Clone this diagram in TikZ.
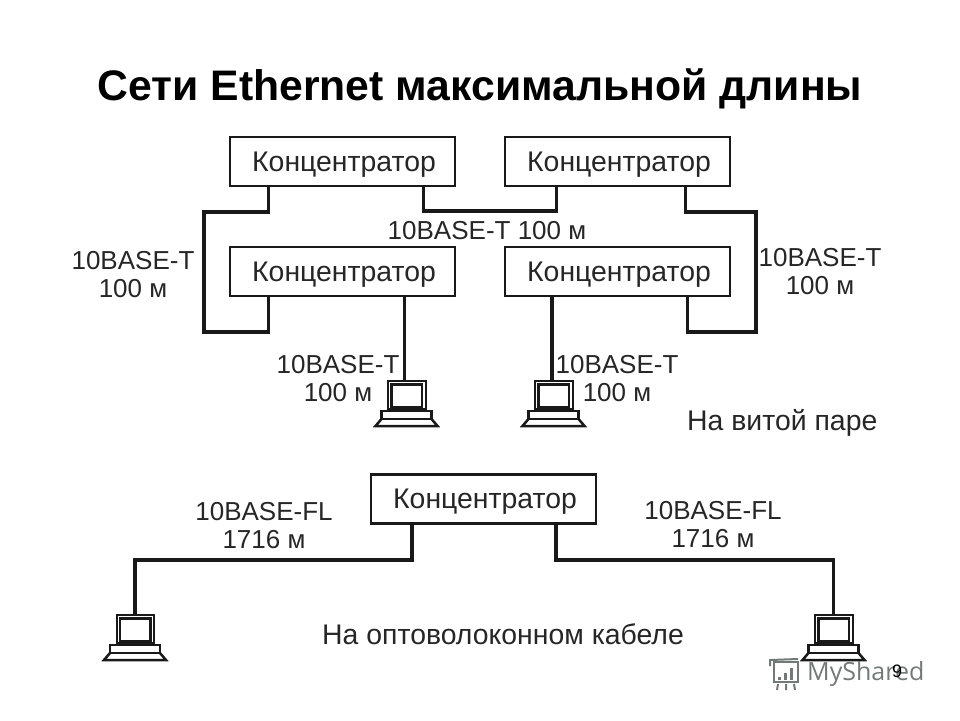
\documentclass[tikz,border=0pt]{standalone}
\usepackage{fontspec}
\setmainfont{Liberation Sans}
\newfontfamily\markfont{Open Sans}
\definecolor{markgray}{HTML}{727A78}
\usetikzlibrary{positioning}

\begin{document}
\begin{tikzpicture}[
        x=1pt, y=-1pt,
        node distance=61pt and 50pt,
        hub/.style={rectangle, draw=black!90, fill=white, line width=2.5pt, minimum width=225pt, minimum height=49pt, inner sep=0pt, outer sep=0pt, text=black!85, text height=19pt, text depth=0pt, font=\fontsize{28.4}{33}\selectfont, execute at begin node=\hspace*{3pt}},
        link/.style={draw=black!90, line width=3.5pt},
        info/.style={align=center, inner sep=0pt, text=black!85, font=\fontsize{26}{28.5}\selectfont},
        caption/.style={inner sep=0pt, text=black!85, font=\fontsize{28.4}{33}\selectfont},
        laptop/.pic={
            \draw[line width=2pt, draw=black!90] (-18.5,0) rectangle (19,28);
            \draw[line width=2.5pt, draw=black!90] (-15,3.5) rectangle (15.5,26);
            \draw[line width=2.2pt, draw=black!90] (-25,30) rectangle (25,38);
            \draw[line width=2.5pt, draw=black!90] (-25,38) -- (-31,45) -- (31,45) -- (25,38);
            \coordinate (-top) at (0,0);
        }
    ]
        \useasboundingbox (0,0) rectangle (960,720);

        % Title
        \node[inner sep=0pt, font=\fontsize{42.7}{50}\selectfont\bfseries] (title) at (480,89) {Сети Ethernet максимальной длины};

        % Twisted pair part
        \node[hub] (hubTL) at (342.5,161.5) {Концентратор};
        \node[hub, right=of hubTL] (hubTR) {Концентратор};
        \node[hub, below=of hubTL] (hubBL) {Концентратор};
        \node[hub, below=of hubTR] (hubBR) {Концентратор};

        \pic (pcA) at (406.5,381) {laptop};
        \pic (pcB) at (553.5,381) {laptop};

        \coordinate (bendA) at (204,212);
        \coordinate (bendB) at (204,332);
        \coordinate (bendC) at (756,212);
        \coordinate (bendD) at (756,332);
        \coordinate (bendM) at (487,211);

        \draw[link] ([xshift=-74pt]hubTL.south) |- (bendA) -- (bendB) -| ([xshift=-74pt]hubBL.south);
        \draw[link] ([xshift=81pt]hubTL.south) |- (bendM) -| ([xshift=-61pt]hubTR.south);
        \draw[link] ([xshift=68pt]hubTR.south) |- (bendC) -- (bendD) -| ([xshift=70pt]hubBR.south);
        \draw[link] ([xshift=62pt]hubBL.south) -- ([xshift=-2pt]pcA-top);
        \draw[link] ([xshift=-65.5pt]hubBR.south) -- ([xshift=-1.5pt]pcB-top);

        \node[info] (lblTop) at (487,231) {10BASE-T 100 м};
        \node[info] (lblLeft) at (133,274.5) {10BASE-T\\100 м};
        \node[info] (lblRight) at (820,271.5) {10BASE-T\\100 м};
        \node[info] (lblPcA) at (338,378.5) {10BASE-T\\100 м};
        \node[info] (lblPcB) at (617,378.5) {10BASE-T\\100 м};
        \node[caption, anchor=west] (capTop) at (687,423) {На витой паре};

        % Fibre part
        \node[hub] (hubF) at (483.5,499) {Концентратор};

        \pic (pcC) at (135,615) {laptop};
        \pic (pcD) at (833.5,615) {laptop};

        \coordinate (bendE) at (135,560);
        \coordinate (bendF) at (833.5,560);

        \draw[link] ([xshift=-71.5pt]hubF.south) |- (bendE) -- (pcC-top);
        \draw[link] ([xshift=72.5pt]hubF.south) |- (bendF) -- (pcD-top);

        \node[info] (lblFibreL) at (264,525.5) {10BASE-FL\\1716 м};
        \node[info] (lblFibreR) at (713,524.5) {10BASE-FL\\1716 м};
        \node[caption, anchor=west] (capFibre) at (322,634) {На оптоволоконном кабеле};

        % Watermark and slide number
        \node[anchor=west, inner sep=0pt, text=markgray, font=\fontsize{25}{30}\selectfont\markfont] (mark) at (807,674) {MyShared};
        \draw[markgray, line width=2pt] (774,662) rectangle (798,682);
        \draw[markgray, line width=2pt] (770,666) -- (770,660) -- (798,659);
        \draw[markgray, line width=3pt] (779,680) -- (779,677) (785,680) -- (785,673) (791,680) -- (791,668);
        \draw[markgray, line width=2pt] (778,684) -- (777,690) (786,684) -- (786,690) (794,684) -- (795,690);
        \node[inner sep=0pt, font=\fontsize{18}{21}\selectfont] (pageno) at (897,671) {9};

    \end{tikzpicture}
\end{document}
